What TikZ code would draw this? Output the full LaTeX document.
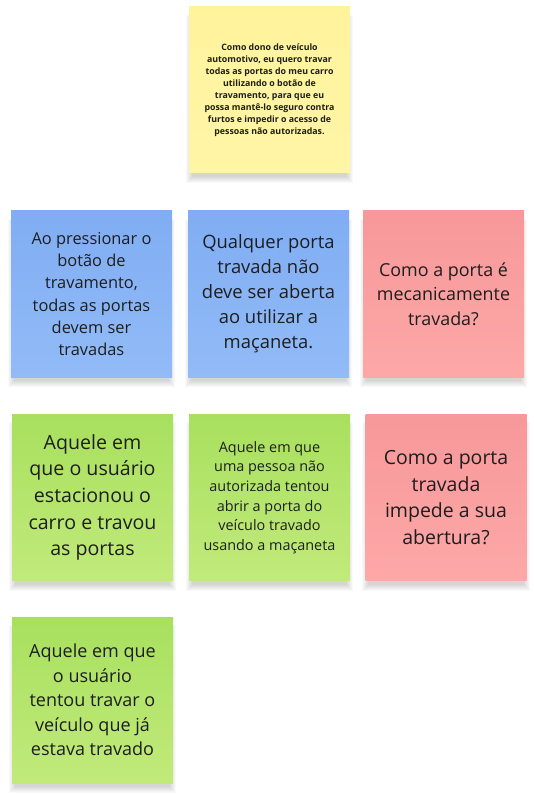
\documentclass[tikz,border=0pt]{standalone}
\usepackage{fontspec}
\setmainfont{Open Sans}
\usetikzlibrary{backgrounds}
\definecolor{yelT}{HTML}{FFF39C}
\definecolor{yelB}{HTML}{FFF5A6}
\definecolor{bluT}{HTML}{80ADF3}
\definecolor{bluB}{HTML}{92BBF7}
\definecolor{redT}{HTML}{F7989A}
\definecolor{redB}{HTML}{FDA8A8}
\definecolor{grnT}{HTML}{A8E05E}
\definecolor{grnB}{HTML}{C1EA7B}
\definecolor{ink}{HTML}{1E1E1E}
\tikzset{
  sticky/.style={rectangle, minimum width=161pt, minimum height=166pt, inner sep=0pt,
    align=center, text=ink},
  yel/.style={sticky, top color=yelT, bottom color=yelB},
  blu/.style={sticky, top color=bluT, bottom color=bluB},
  red/.style={sticky, top color=redT, bottom color=redB},
  grn/.style={sticky, top color=grnT, bottom color=grnB},
  shadowlayer/.style={fill=black, fill opacity=0.022}
}
\newcommand{\stickyshadow}[1]{%
  \foreach \k in {0,...,6}{%
    \fill[shadowlayer] ([xshift=3pt-\k pt, yshift=-4pt-\k pt]#1.south west) rectangle ([xshift=-3pt+\k pt, yshift=-14pt+\k pt]#1.north east);
  }%
}
\begin{document}
\begin{tikzpicture}[x=1pt,y=1pt]
\useasboundingbox (0,0) rectangle (534,-794);
\node[yel, font=\fontsize{8.8}{12}\selectfont\bfseries] (story) at (269.5,-90) {Como dono de veículo\\automotivo, eu quero travar\\todas as portas do meu carro\\utilizando o botão de\\travamento, para que eu\\possa mantê-lo seguro contra\\furtos e impedir o acesso de\\pessoas não autorizadas.};
\node[blu, font=\fontsize{16.4}{22.3}\selectfont] (b1) at (91.5,-294) {Ao pressionar o\\botão de\\travamento,\\todas as portas\\devem ser\\travadas};
\node[blu, font=\fontsize{18.4}{25}\selectfont] (b2) at (268.5,-294) {Qualquer porta\\travada não\\deve ser aberta\\ao utilizar a\\maçaneta.};
\node[red, font=\fontsize{17.9}{24.3}\selectfont] (r1) at (443.5,-294) {Como a porta é\\mecanicamente\\travada?};
\node[grn, font=\fontsize{19.6}{26.7}\selectfont] (g1) at (92.5,-497.5) {Aquele em\\que o usuário\\estacionou o\\carro e travou\\as portas};
\node[grn, font=\fontsize{14.4}{19.6}\selectfont] (g2) at (269.5,-497.5) {Aquele em que\\uma pessoa não\\autorizada tentou\\abrir a porta do\\veículo travado\\usando a maçaneta};
\node[red, font=\fontsize{19.5}{26.5}\selectfont] (r2) at (446,-497.5) {Como a porta\\travada\\impede a sua\\abertura?};
\node[grn, font=\fontsize{18}{24.5}\selectfont] (g3) at (92.5,-700) {Aquele em que\\o usuário\\tentou travar o\\veículo que já\\estava travado};
\begin{pgfonlayer}{background}
  \fill[white] (0,0) rectangle (534,-794);
  \stickyshadow{story}
  \stickyshadow{b1}
  \stickyshadow{b2}
  \stickyshadow{r1}
  \stickyshadow{g1}
  \stickyshadow{g2}
  \stickyshadow{r2}
  \stickyshadow{g3}
\end{pgfonlayer}
\end{tikzpicture}
\end{document}
